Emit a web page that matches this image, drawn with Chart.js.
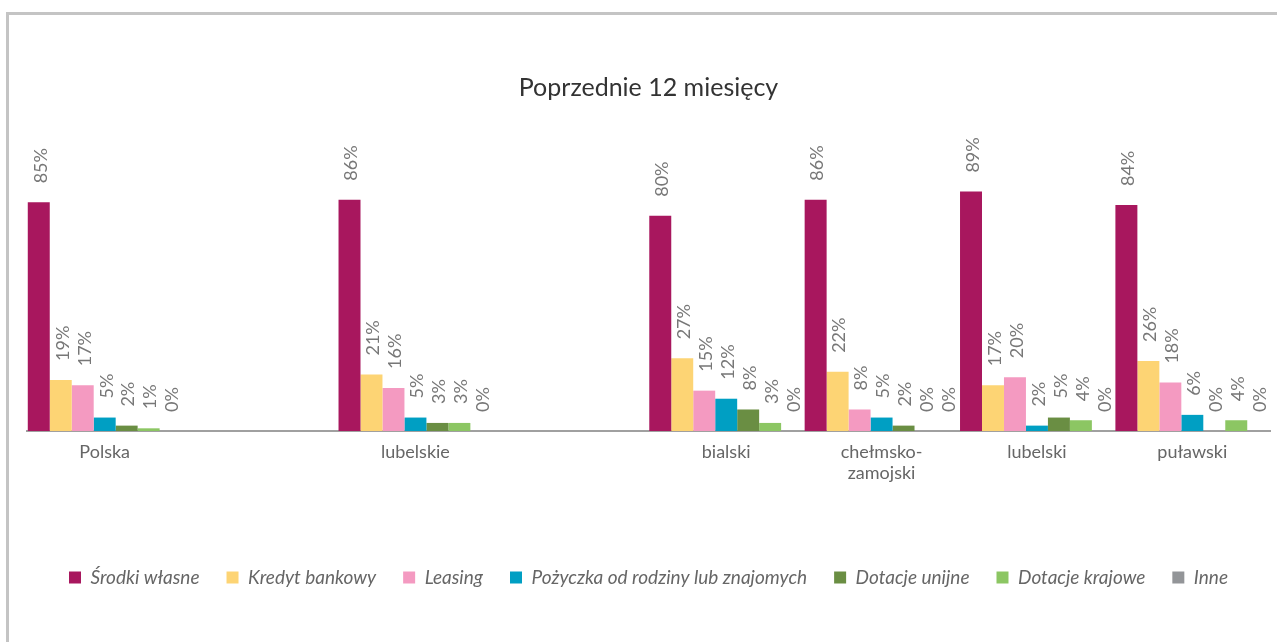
<!DOCTYPE html>
<html>
<head>
<meta charset="utf-8">
<script src="https://cdn.jsdelivr.net/npm/chart.js@4"></script>
<style>
  html, body { margin: 0; padding: 0; overflow: hidden; background: #fff; }
  #frame { position: absolute; left: 6px; top: 12px; width: 2000px; height: 2000px;
           border-left: 3px solid #c4c4c4; border-top: 3px solid #c4c4c4; }
  #wrap { position: absolute; left: 0; top: 0; width: 1277px; height: 642px; }
</style>
</head>
<body>
<div id="frame"></div>
<div id="wrap"><canvas id="chart"></canvas></div>
<script>
// kategorie (puste miejsca = przerwy między grupami)
const categories = ["Polska", "", "lubelskie", "", "bialski", ["chełmsko-", "zamojski"], "lubelski", "puławski"]

const srodkiWlasne = [85, null, 86, null, 80, 86, 89, 84]
const kredytBankowy = [19, null, 21, null, 27, 22, 17, 26]
const leasing = [17, null, 16, null, 15, 8, 20, 18]
const pozyczka = [5, null, 5, null, 12, 5, 2, 6]
const dotacjeUnijne = [2, null, 3, null, 8, 2, 5, 0]
const dotacjeKrajowe = [1, null, 3, null, 3, 0, 4, 4]
const inne = [0, null, 0, null, 0, 0, 0, 0]

const seriesNames = ["Środki własne", "Kredyt bankowy", "Leasing", "Pożyczka od rodziny lub znajomych", "Dotacje unijne", "Dotacje krajowe", "Inne"]
const seriesColors = ["#a8175e", "#fdd474", "#f49ac1", "#009fc3", "#6a8e43", "#8cc663", "#939598"]
const seriesData = [srodkiWlasne, kredytBankowy, leasing, pozyczka, dotacjeUnijne, dotacjeKrajowe, inne]

const FONT = "Lato, 'Noto Sans', sans-serif"

// etykiety wartości pionowo nad słupkami
const valueLabels = {
  id: "valueLabels",
  afterDatasetsDraw(chart) {
    const ctx = chart.ctx
    ctx.save()
    ctx.font = "18px " + FONT
    ctx.fillStyle = "#777"
    ctx.textAlign = "left"
    ctx.textBaseline = "middle"
    chart.data.datasets.forEach((ds, i) => {
      const meta = chart.getDatasetMeta(i)
      meta.data.forEach((bar, j) => {
        const v = ds.data[j]
        if (v === null || v === undefined) return
        ctx.save()
        ctx.translate(bar.x + 2, bar.y - 19)
        ctx.rotate(-Math.PI / 2)
        ctx.fillText(v + "%", 0, 0)
        ctx.restore()
      })
    })
    ctx.restore()
  }
}

new Chart(document.getElementById("chart"), {
  type: "bar",
  data: {
    labels: categories,
    datasets: seriesNames.map((name, i) => ({
      label: name,
      data: seriesData[i],
      backgroundColor: seriesColors[i],
      barPercentage: 1,
      categoryPercentage: 0.99,
    })),
  },
  options: {
    responsive: true,
    maintainAspectRatio: false,
    animation: false,
    layout: { padding: { left: 27, right: 7, top: 20, bottom: 45 } },
    plugins: {
      title: {
        display: true,
        text: "Poprzednie 12 miesięcy",
        color: "#333",
        font: { family: FONT, size: 25, weight: "normal" },
        padding: { top: 53, bottom: 59 },
      },
      legend: {
        position: "bottom",
        labels: {
          boxWidth: 12,
          boxHeight: 12,
          padding: 27,
          color: "#666",
          font: { family: FONT, size: 19, style: "italic" },
        },
      },
      tooltip: { enabled: false },
    },
    scales: {
      x: {
        grid: { display: false },
        border: { display: true, color: "#a0a0a0", width: 2 },
        ticks: {
          color: "#666",
          padding: 2,
          maxRotation: 0,
          autoSkip: false,
          font: { family: FONT, size: 18 },
        },
        afterFit(scale) { scale.height = 110 },
      },
      y: {
        display: false,
        min: 0,
        max: 100,
      },
    },
  },
  plugins: [valueLabels],
})
</script>
</body>
</html>
